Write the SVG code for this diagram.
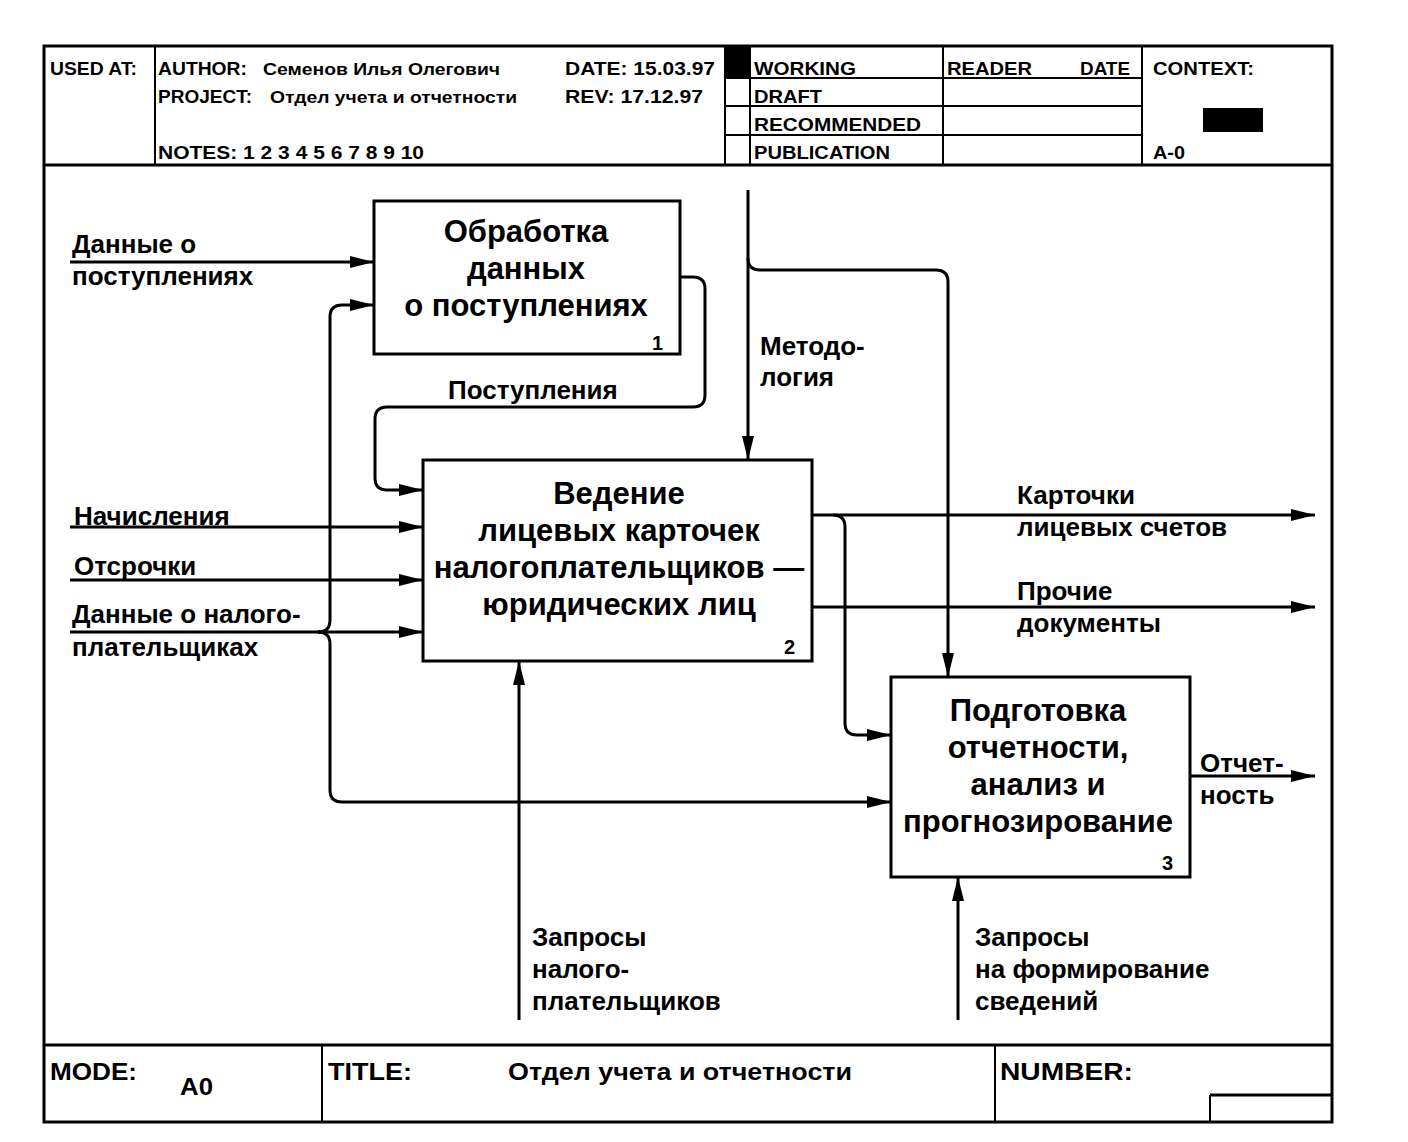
<svg xmlns="http://www.w3.org/2000/svg" width="1408" height="1142" viewBox="0 0 1408 1142">
<style>
text{font-family:"Liberation Sans",Arial,sans-serif;fill:#000;font-weight:bold}
.hd{font-size:18px}
.hs{font-size:16px}
.ft{font-size:24px}
.lb{font-size:26px}
.bx{font-size:31px;text-anchor:middle}
.num{font-size:20px}
.frame{fill:none;stroke:#000;stroke-width:3}
.thin{fill:none;stroke:#000;stroke-width:2}
.box{fill:#fff;stroke:#000;stroke-width:3}
.arr{fill:none;stroke:#000;stroke-width:3;marker-end:url(#ah)}
</style>
<defs>
<marker id="ah" viewBox="0 0 24 12" refX="24" refY="6" markerWidth="24" markerHeight="12" orient="auto" markerUnits="userSpaceOnUse">
<path d="M0,0 L24,6 L0,12 z" fill="#000"/>
</marker>
</defs>
<rect width="1408" height="1142" fill="#fff"/>

<g id="frame">
<rect class="frame" x="44" y="46" width="1288" height="1076"/>
<line class="frame" x1="44" y1="165" x2="1332" y2="165"/>
<line class="frame" x1="44" y1="1045" x2="1332" y2="1045"/>
</g>

<g id="header">
<line class="thin" x1="155" y1="46" x2="155" y2="165"/>
<line class="thin" x1="725" y1="46" x2="725" y2="165"/>
<line class="thin" x1="750" y1="46" x2="750" y2="165"/>
<line class="thin" x1="943" y1="46" x2="943" y2="165"/>
<line class="thin" x1="1142" y1="46" x2="1142" y2="165"/>
<line class="thin" x1="725" y1="78" x2="1142" y2="78"/>
<line class="thin" x1="725" y1="106" x2="1142" y2="106"/>
<line class="thin" x1="725" y1="135" x2="1142" y2="135"/>
<rect x="725" y="46" width="25" height="32" fill="#000"/>
<rect x="1203" y="108" width="60" height="24" fill="#000"/>
<text class="hd" x="50" y="75" textLength="87" lengthAdjust="spacingAndGlyphs">USED AT:</text>
<text class="hd" x="158" y="75" textLength="89" lengthAdjust="spacingAndGlyphs">AUTHOR:</text>
<text class="hs" x="263" y="75" textLength="237" lengthAdjust="spacingAndGlyphs">Семенов Илья Олегович</text>
<text class="hd" x="565" y="75" textLength="150" lengthAdjust="spacingAndGlyphs">DATE:  15.03.97</text>
<text class="hd" x="158" y="103" textLength="94" lengthAdjust="spacingAndGlyphs">PROJECT:</text>
<text class="hs" x="270" y="103" textLength="247" lengthAdjust="spacingAndGlyphs">Отдел учета и отчетности</text>
<text class="hd" x="565" y="103" textLength="138" lengthAdjust="spacingAndGlyphs">REV:  17.12.97</text>
<text class="hd" x="158" y="159" textLength="266" lengthAdjust="spacingAndGlyphs">NOTES:  1 2 3 4 5 6 7 8 9 10</text>
<text class="hd" x="754" y="75" textLength="102" lengthAdjust="spacingAndGlyphs">WORKING</text>
<text class="hd" x="754" y="103" textLength="68" lengthAdjust="spacingAndGlyphs">DRAFT</text>
<text class="hd" x="754" y="131" textLength="167" lengthAdjust="spacingAndGlyphs">RECOMMENDED</text>
<text class="hd" x="754" y="159" textLength="136" lengthAdjust="spacingAndGlyphs">PUBLICATION</text>
<text class="hd" x="947" y="75" textLength="85" lengthAdjust="spacingAndGlyphs">READER</text>
<text class="hd" x="1080" y="75" textLength="50" lengthAdjust="spacingAndGlyphs">DATE</text>
<text class="hd" x="1153" y="75" textLength="101" lengthAdjust="spacingAndGlyphs">CONTEXT:</text>
<text class="hd" x="1153" y="159" textLength="32" lengthAdjust="spacingAndGlyphs">A-0</text>
</g>

<g id="footer">
<line class="thin" x1="322" y1="1045" x2="322" y2="1122"/>
<line class="thin" x1="995" y1="1045" x2="995" y2="1122"/>
<line class="thin" x1="1210" y1="1095" x2="1210" y2="1122"/>
<line class="frame" x1="1210" y1="1095" x2="1332" y2="1095"/>
<text class="ft" x="50" y="1080" textLength="87" lengthAdjust="spacingAndGlyphs">MODE:</text>
<text class="ft" x="180" y="1095" textLength="33" lengthAdjust="spacingAndGlyphs">A0</text>
<text class="ft" x="328" y="1080" textLength="84" lengthAdjust="spacingAndGlyphs">TITLE:</text>
<text class="ft" x="508" y="1080" textLength="344" lengthAdjust="spacingAndGlyphs">Отдел учета и отчетности</text>
<text class="ft" x="1000" y="1080" textLength="133" lengthAdjust="spacingAndGlyphs">NUMBER:</text>
</g>

<g id="connectors">
<path class="arr" d="M70,262 H374"/>
<path class="arr" d="M318,632 Q330,632 330,620 V317 Q330,305 342,305 H374"/>
<path class="arr" d="M318,632 Q330,632 330,644 V790 Q330,802 342,802 H891"/>
<path class="arr" d="M70,632 H423"/>
<path class="arr" d="M70,527 H423"/>
<path class="arr" d="M70,580 H423"/>
<path class="arr" d="M680,277 H693 Q705,277 705,289 V395 Q705,407 693,407 H387 Q375,407 375,419 V478 Q375,490 387,490 H423"/>
<path class="arr" d="M748,190 V460"/>
<path class="arr" d="M748,258 Q748,270 760,270 H936 Q948,270 948,282 V677"/>
<path class="arr" d="M812,515 H1315"/>
<path class="arr" d="M833,515 Q845,515 845,527 V723 Q845,735 857,735 H891"/>
<path class="arr" d="M812,607 H1315"/>
<path class="arr" d="M1190,776 H1315"/>
<path class="arr" d="M519,1020 V661"/>
<path class="arr" d="M958,1020 V877"/>
<text class="lb" x="72" y="253">Данные о</text>
<text class="lb" x="72" y="285">поступлениях</text>
<text class="lb" x="448" y="399">Поступления</text>
<text class="lb" x="760" y="355">Методо-</text>
<text class="lb" x="760" y="386">логия</text>
<text class="lb" x="74" y="525">Начисления</text>
<text class="lb" x="74" y="575">Отсрочки</text>
<text class="lb" x="72" y="623">Данные о налого-</text>
<text class="lb" x="72" y="656">плательщиках</text>
<text class="lb" x="1017" y="504">Карточки</text>
<text class="lb" x="1017" y="536">лицевых счетов</text>
<text class="lb" x="1017" y="600">Прочие</text>
<text class="lb" x="1017" y="632">документы</text>
<text class="lb" x="1200" y="772">Отчет-</text>
<text class="lb" x="1200" y="804">ность</text>
<text class="lb" x="532" y="946">Запросы</text>
<text class="lb" x="532" y="978">налого-</text>
<text class="lb" x="532" y="1010">плательщиков</text>
<text class="lb" x="975" y="946">Запросы</text>
<text class="lb" x="975" y="978">на формирование</text>
<text class="lb" x="975" y="1010">сведений</text>
</g>

<g id="node1">
<rect class="box" x="374" y="201" width="306" height="153"/>
<text class="bx" x="526" y="242">Обработка</text>
<text class="bx" x="526" y="279">данных</text>
<text class="bx" x="526" y="316">о поступлениях</text>
<text class="num" x="652" y="350">1</text>
</g>

<g id="node2">
<rect class="box" x="423" y="460" width="389" height="201"/>
<text class="bx" x="619" y="504">Ведение</text>
<text class="bx" x="619" y="541">лицевых карточек</text>
<text class="bx" x="619" y="578">налогоплательщиков —</text>
<text class="bx" x="619" y="615">юридических лиц</text>
<text class="num" x="784" y="654">2</text>
</g>

<g id="node3">
<rect class="box" x="891" y="677" width="299" height="200"/>
<text class="bx" x="1038" y="721">Подготовка</text>
<text class="bx" x="1038" y="758">отчетности,</text>
<text class="bx" x="1038" y="795">анализ и</text>
<text class="bx" x="1038" y="832">прогнозирование</text>
<text class="num" x="1162" y="870">3</text>
</g>
</svg>
